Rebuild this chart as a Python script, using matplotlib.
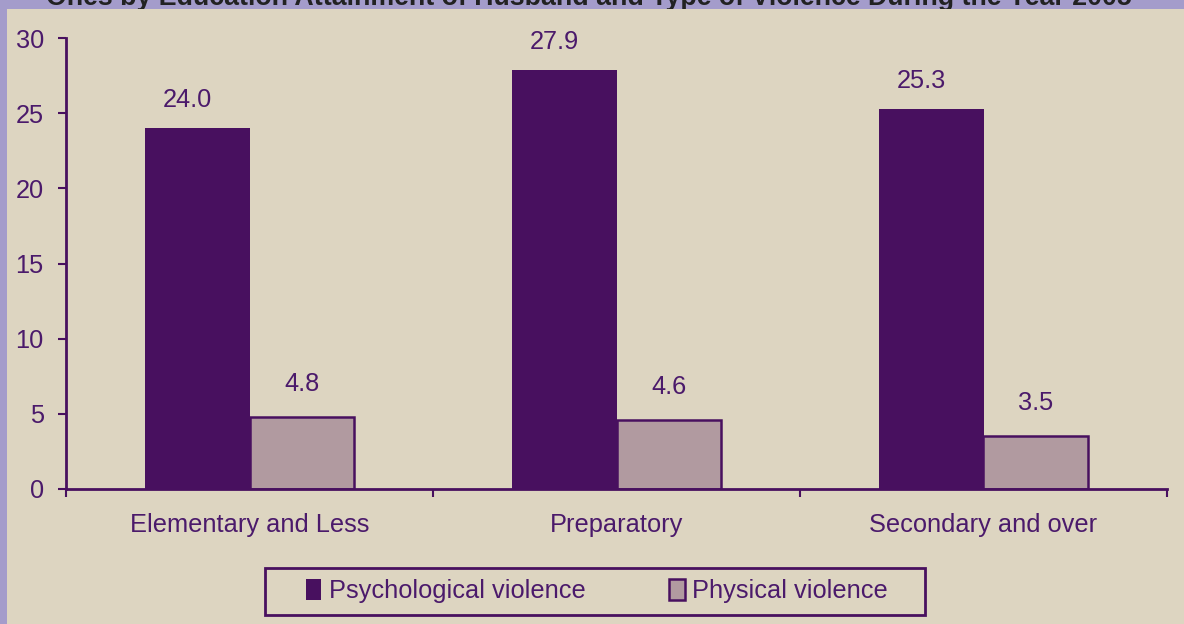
import matplotlib.pyplot as plt
from matplotlib.patches import Rectangle

plt.rcParams['font.family'] = ['Liberation Sans', 'DejaVu Sans']

# données
categories = ["Elementary and Less", "Preparatory", "Secondary and over"]
psychological = [24.0, 27.9, 25.3]
physical = [4.8, 4.6, 3.5]
series_names = ["Psychological violence", "Physical violence"]
yticks = [0, 5, 10, 15, 20, 25, 30]

purple = '#48105f'
mauve = '#b19aa0'
text_col = '#4b1a6b'
beige = '#ddd5c1'
band = '#a49ccb'
fs = 18.3

fig = plt.figure(figsize=(11.84, 6.24), dpi=100)
fig.patch.set_facecolor(band)

# panneau beige (le titre est coupé en haut)
fig.text(0.497, 1 - 5 / 624,
         "Ones by Education Attainment of Husband and Type of Violence During the Year 2005",
         ha='center', va='baseline', fontsize=19.3, fontweight='bold', color='#222222', zorder=0)
fig.patches.append(Rectangle((7 / 1184, 0), 1, 1 - 9 / 624, transform=fig.transFigure,
                             facecolor=beige, edgecolor='none', zorder=0.5))

ax = fig.add_axes([66 / 1184, 1 - 489 / 624, (1167 - 66) / 1184, (489 - 38) / 624])
ax.set_zorder(1)
ax.patch.set_visible(False)

x = list(range(len(categories)))
w = 0.286
b1 = ax.bar([i - w / 2 for i in x], psychological, width=w, color=purple, label=series_names[0])
b2 = ax.bar([i + w / 2 for i in x], physical, width=w, color=mauve, edgecolor=purple,
            linewidth=1.8, label=series_names[1])

for rect, v in zip(b1, psychological):
    ax.annotate(f"{v:.1f}", (rect.get_x() + rect.get_width() / 2, v), xytext=(-7, 20),
                textcoords='offset points', ha='center', va='center', fontsize=fs, color=text_col)
for rect, v in zip(b2, physical):
    ax.annotate(f"{v:.1f}", (rect.get_x() + rect.get_width() / 2, v), xytext=(0, 24),
                textcoords='offset points', ha='center', va='center', fontsize=fs, color=text_col)

ax.set_xlim(-0.5, 2.5)
ax.set_ylim(0, 30)
ax.set_yticks(yticks)
ax.set_xticks(x)
ax.set_xticklabels(categories)
ax.set_xticks([-0.5, 0.5, 1.5, 2.5], minor=True)

for s in ['top', 'right']:
    ax.spines[s].set_visible(False)
for s in ['left', 'bottom']:
    ax.spines[s].set_color(purple)
    ax.spines[s].set_linewidth(2)

ax.tick_params(axis='y', direction='out', length=6, width=1.5, color=purple,
               labelsize=fs, labelcolor=text_col, pad=10)
ax.tick_params(axis='x', which='major', length=0, labelsize=fs, labelcolor=text_col, pad=17)
ax.tick_params(axis='x', which='minor', direction='out', length=6, width=1.5, color=purple)

# cadre de la légende
fig.patches.append(Rectangle((265 / 1184, 1 - 615 / 624), 660 / 1184, 47 / 624,
                             transform=fig.transFigure, facecolor='none', edgecolor=purple,
                             linewidth=2, zorder=2))
leg = fig.legend(loc='center', bbox_to_anchor=(597 / 1184, 1 - 591 / 624), ncol=2,
                 fontsize=fs, frameon=False, handlelength=0.6,
                 handleheight=0.9, handletextpad=0.3, columnspacing=3.3, borderpad=0.3,
                 borderaxespad=0)
for t in leg.get_texts():
    t.set_color(text_col)

plt.savefig("out.png", dpi=100, facecolor=fig.get_facecolor())
